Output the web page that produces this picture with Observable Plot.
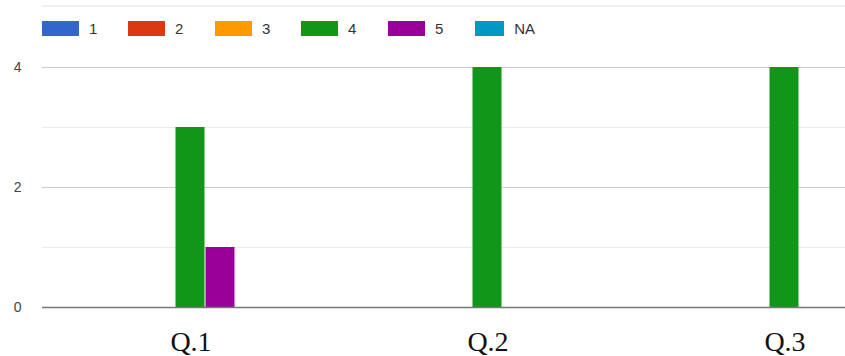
<!DOCTYPE html>
<html>
<head>
<meta charset="utf-8">
<script src="https://cdn.jsdelivr.net/npm/d3@7"></script>
<script src="https://cdn.jsdelivr.net/npm/@observablehq/plot@0.6"></script>
<style>
  html, body { margin: 0; padding: 0; background: #fff; overflow: hidden; width: 845px; height: 356px; }
  #wrap { position: relative; width: 845px; height: 356px; overflow: hidden; }
  #toprule { position: absolute; left: 42px; right: 0; top: 5px; height: 2px; background: #f0f0f0; }
  #legend { position: absolute; left: 42px; top: 20px; display: flex; align-items: center; font-family: "Liberation Sans", Arial, sans-serif; font-size: 15px; color: #333; }
  .item { display: flex; align-items: center; margin-right: 0; }
  .sw { width: 37px; height: 15px; margin-right: 10px; }
  #chart { position: absolute; left: 0; top: 0; }
</style>
</head>
<body>
<div id="wrap">
  <div id="toprule"></div>
  <div id="legend"></div>
  <div id="chart"></div>
</div>
<script>
const questions = ["Q.1", "Q.2", "Q.3"];
const series = ["1", "2", "3", "4", "5", "NA"];
const colors = ["#3366cc", "#dc3912", "#ff9900", "#109618", "#990099", "#0099c6"];
const values1 = [0, 0, 0];
const values2 = [0, 0, 0];
const values3 = [0, 0, 0];
const values4 = [3, 4, 4];
const values5 = [1, 0, 0];
const valuesNA = [0, 0, 0];
const yTicks = [0, 2, 4];
const minorTicks = [1, 3];

const seriesValues = [values1, values2, values3, values4, values5, valuesNA];
const data = [];
questions.forEach((q, qi) => {
  series.forEach((s, si) => {
    data.push({question: q, series: s, value: seriesValues[si][qi]});
  });
});

// legend
const legend = document.getElementById("legend");
const itemWidths = [86, 87, 86, 87, 87, 60];
series.forEach((s, i) => {
  const item = document.createElement("div");
  item.className = "item";
  item.style.width = itemWidths[i] + "px";
  const sw = document.createElement("div");
  sw.className = "sw";
  sw.style.background = colors[i];
  const lab = document.createElement("span");
  lab.textContent = s;
  item.appendChild(sw);
  item.appendChild(lab);
  legend.appendChild(item);
});

const chart = Plot.plot({
  width: 933,
  height: 356,
  marginLeft: 42,
  marginRight: 0,
  marginTop: 67,
  marginBottom: 49,
  style: {fontFamily: "Liberation Sans, Arial, sans-serif", fontSize: "14px", background: "transparent", maxWidth: "none"},
  fx: {domain: questions, padding: 0, axis: null, label: null},
  x: {domain: series, paddingInner: 0, paddingOuter: 1.95, align: 0.3675, axis: null},
  y: {domain: [0, 4], axis: null},
  color: {domain: series, range: colors},
  marks: [
    Plot.ruleY(minorTicks, {stroke: "#ebebeb", strokeWidth: 1}),
    Plot.ruleY(yTicks.filter(d => d !== 0), {stroke: "#cccccc", strokeWidth: 1}),
    Plot.barY(data.filter(d => d.value > 0), {fx: "question", x: "series", y: "value", fill: "series", insetLeft: 0.5, insetRight: 0.5}),
    Plot.ruleY([0], {stroke: "#777777", strokeWidth: 1.5}),
    Plot.axisY({ticks: yTicks, tickFormat: "d", tickSize: 0, tickPadding: 21, fill: "#444", fontSize: 14, label: null}),
    Plot.axisFx({anchor: "bottom", tickSize: 0, tickPadding: 24, fontSize: 28, fontFamily: "Liberation Serif, serif", fill: "#111", label: null})
  ]
});
document.getElementById("chart").appendChild(chart);
</script>
</body>
</html>
